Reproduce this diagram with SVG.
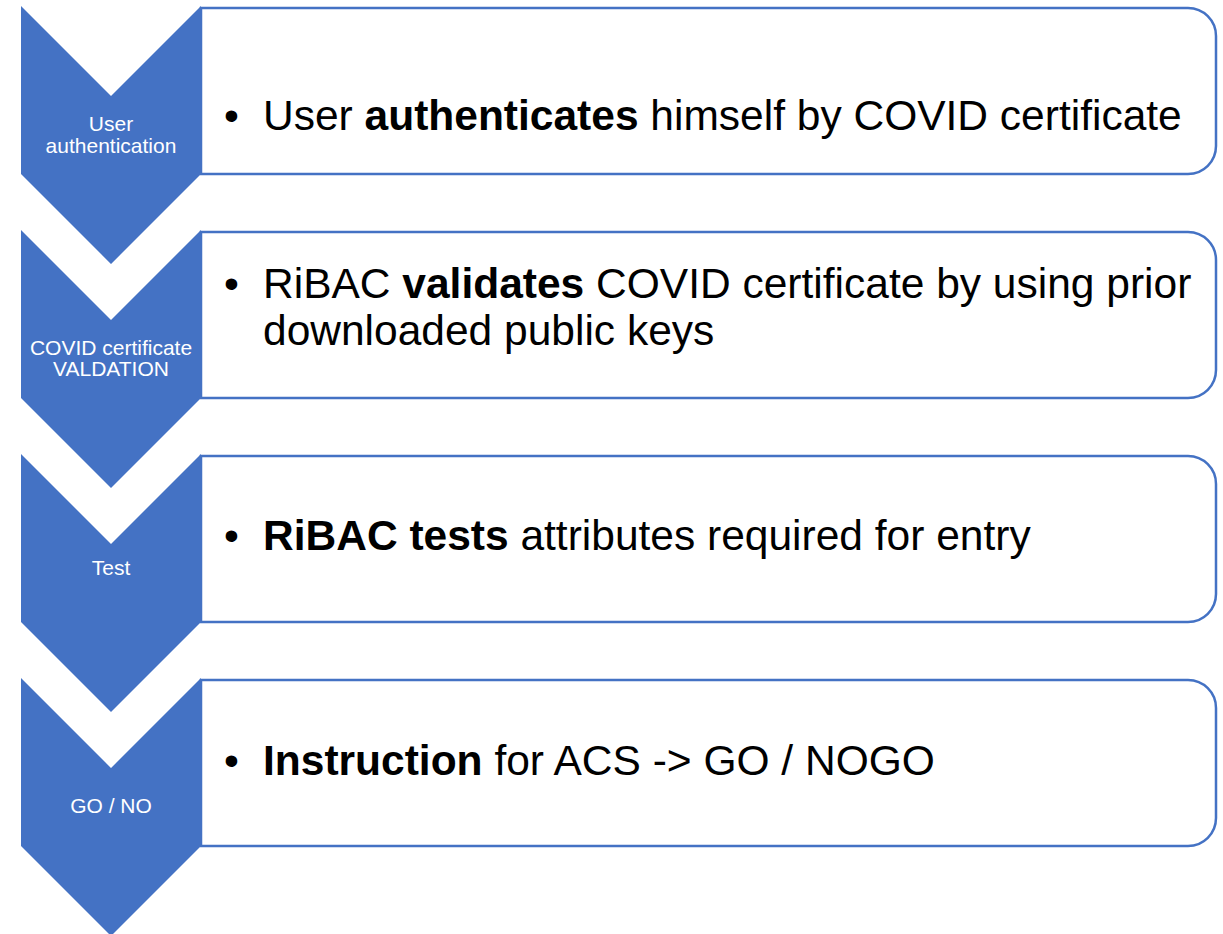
<svg xmlns="http://www.w3.org/2000/svg" width="1223" height="934" viewBox="0 0 1223 934">
<style>
.chev{fill:#4472C4;}
.box{fill:#FFFFFF;stroke:#4472C4;stroke-width:2.5;}
.lbl{font-family:"Liberation Sans",Arial,sans-serif;font-size:21px;fill:#FFFFFF;text-anchor:middle;}
.txt{font-family:"Liberation Sans",Arial,sans-serif;font-size:42.5px;fill:#000000;}
.b{font-weight:bold;}
</style>
<rect width="1223" height="934" fill="#FFFFFF"/>
<g id="step1">
<path class="box" d="M201,8 H1188 A28,28 0 0 1 1216,36 V146 A28,28 0 0 1 1188,174 H201 Z"/>
<path class="chev" d="M21,6 L111,96 L201,6 L201,174 L111,264 L21,174 Z"/>
<text class="lbl" x="111" y="131">User</text>
<text class="lbl" x="111" y="153">authentication</text>
<text class="txt" x="224" y="130">•</text>
<text class="txt" x="263" y="130">User <tspan class="b">authenticates</tspan> himself by COVID certificate</text>
</g>
<g id="step2">
<path class="box" d="M201,232 H1188 A28,28 0 0 1 1216,260 V370 A28,28 0 0 1 1188,398 H201 Z"/>
<path class="chev" d="M21,230 L111,320 L201,230 L201,398 L111,488 L21,398 Z"/>
<text class="lbl" x="111" y="355">COVID certificate</text>
<text class="lbl" x="111" y="376">VALDATION</text>
<text class="txt" x="224" y="298">•</text>
<text class="txt" x="263" y="298">RiBAC <tspan class="b">validates</tspan> COVID certificate by using prior</text>
<text class="txt" x="263" y="345">downloaded public keys</text>
</g>
<g id="step3">
<path class="box" d="M201,456 H1188 A28,28 0 0 1 1216,484 V594 A28,28 0 0 1 1188,622 H201 Z"/>
<path class="chev" d="M21,454 L111,544 L201,454 L201,622 L111,712 L21,622 Z"/>
<text class="lbl" x="111" y="575">Test</text>
<text class="txt" x="224" y="550">•</text>
<text class="txt" x="263" y="550"><tspan class="b">RiBAC tests</tspan> attributes required for entry</text>
</g>
<g id="step4">
<path class="box" d="M201,680 H1188 A28,28 0 0 1 1216,708 V818 A28,28 0 0 1 1188,846 H201 Z"/>
<path class="chev" d="M21,678 L111,768 L201,678 L201,846 L111,936 L21,846 Z"/>
<text class="lbl" x="111" y="813">GO / NO</text>
<text class="txt" x="224" y="775">•</text>
<text class="txt" x="263" y="775"><tspan class="b">Instruction</tspan> for ACS -&gt; GO / NOGO</text>
</g>
<g id="connectors"></g>
</svg>
